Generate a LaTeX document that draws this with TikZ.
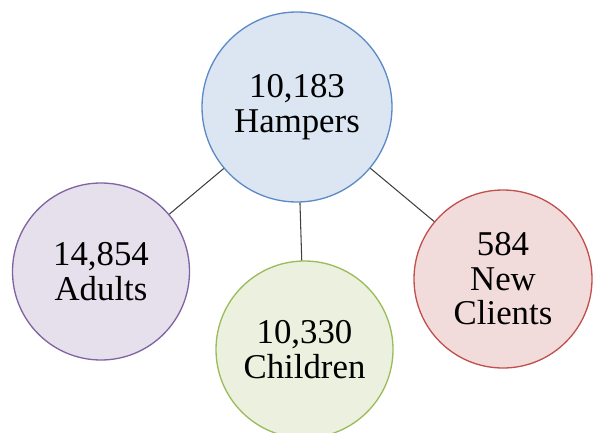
\documentclass[tikz,border=0pt]{standalone}
\usepackage{fontspec}
\setmainfont{Liberation Serif}
\usetikzlibrary{positioning}

\definecolor{hampfill}{HTML}{DCE6F2}
\definecolor{hampline}{HTML}{5B8AC6}
\definecolor{adultfill}{HTML}{E5E0EC}
\definecolor{adultline}{HTML}{8064A2}
\definecolor{childfill}{HTML}{EBF1DE}
\definecolor{childline}{HTML}{9BBB59}
\definecolor{clientfill}{HTML}{F2DCDB}
\definecolor{clientline}{HTML}{C0504D}

\tikzset{
    bubble/.style={circle, inner sep=0pt, align=center, line width=0.75pt},
    link/.style={draw=black!75, line width=0.6pt}
}

\begin{document}
\begin{tikzpicture}
    \useasboundingbox (0,0) rectangle (11.92,-8.66);
    \clip (0,0) rectangle (11.92,-8.66);
    \begin{scope}[font=\fontsize{19.8}{19.6}\selectfont]
        \node [bubble, draw=hampline, fill=hampfill, minimum size=3.8cm]     (hampers)  at (5.94,-2.14)  {10,183\\Hampers};
        \node [bubble, draw=adultline, fill=adultfill, minimum size=3.54cm]  (adults)   at (2.02,-5.43)  {14,854\\Adults};
        \node [bubble, draw=childline, fill=childfill, minimum size=3.54cm]  (children) at (6.09,-6.99)  {10,330\\Children};
        \node [bubble, draw=clientline, fill=clientfill, minimum size=3.56cm] (clients) at (10.06,-5.58) {584\\New\\Clients};

        \foreach \n in {adults,children,clients}{%
            \draw [link] (hampers) -- (\n);
        }
    \end{scope}
\end{tikzpicture}
\end{document}
